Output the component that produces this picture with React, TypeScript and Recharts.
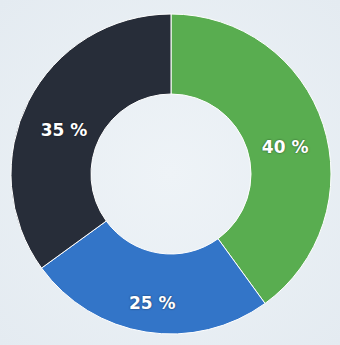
import { PieChart, Pie, Cell } from 'recharts'

const labels = ['A', 'B', 'C']
const values = [40, 25, 35]
const colors = ['#59ad50', '#3375c8', '#272d39']

const data = labels.map((name, i) => ({ name, value: values[i] }))

const RAD = Math.PI / 180

const renderLabel = (props: any) => {
  const { cx, cy, midAngle, innerRadius, outerRadius, percent } = props
  const r = (innerRadius + outerRadius) / 2
  const x = cx + r * Math.cos(-midAngle * RAD)
  const y = cy + r * Math.sin(-midAngle * RAD) + 10
  return (
    <text
      x={x}
      y={y}
      fill="#ffffff"
      textAnchor="middle"
      dominantBaseline="central"
      fontFamily="DejaVu Sans"
      fontWeight="bold"
      fontSize={17}
      style={{ textShadow: '0 0 2px rgba(0,0,0,0.6)' }}
    >
      {`${Math.round(percent * 100)} %`}
    </text>
  )
}

export default function App() {
  return (
    <div
      style={{
        position: 'absolute',
        left: 0,
        top: 0,
        width: 340,
        height: 345,
        background: 'radial-gradient(circle at 50% 50%, #eef3f7 0%, #e4ebf1 100%)',
      }}
    >
      <PieChart width={340} height={345} margin={{ top: 0, right: 0, bottom: 0, left: 0 }}>
        <Pie
          data={data}
          dataKey="value"
          cx={171}
          cy={174}
          innerRadius={80}
          outerRadius={160}
          startAngle={90}
          endAngle={-270}
          stroke="#ffffff"
          strokeWidth={1}
          label={renderLabel}
          labelLine={false}
          isAnimationActive={false}
        >
          {data.map((d, i) => (
            <Cell key={d.name} fill={colors[i]} />
          ))}
        </Pie>
      </PieChart>
    </div>
  )
}
